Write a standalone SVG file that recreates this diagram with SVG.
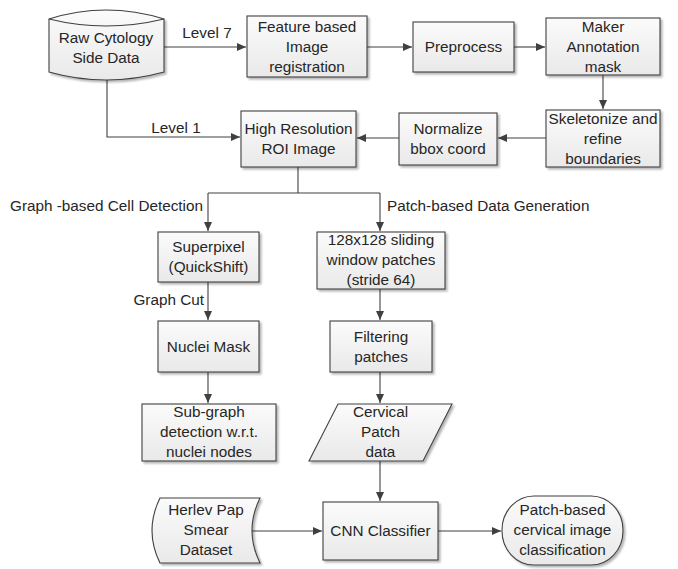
<svg xmlns="http://www.w3.org/2000/svg" width="678" height="569" viewBox="0 0 678 569">
<defs>
<linearGradient id="g" x1="0" y1="0" x2="0" y2="1">
<stop offset="0" stop-color="#fbfbfb"/>
<stop offset="1" stop-color="#e9e9e9"/>
</linearGradient>
<filter id="sh" x="-10%" y="-10%" width="125%" height="130%">
<feGaussianBlur in="SourceAlpha" stdDeviation="1"/>
<feOffset dx="2" dy="2" result="b"/>
<feComponentTransfer><feFuncA type="linear" slope="0.3"/></feComponentTransfer>
<feMerge><feMergeNode/><feMergeNode in="SourceGraphic"/></feMerge>
</filter>
<marker id="ah" markerWidth="10" markerHeight="8" refX="9" refY="4" orient="auto" markerUnits="userSpaceOnUse">
<path d="M0,0 L9,4 L0,8 Z" fill="#404040"/>
</marker>
</defs>
<style>
.s{fill:url(#g);stroke:#404040;stroke-width:1.1;filter:url(#sh)}
.t{font-family:"Liberation Sans",Arial,sans-serif;font-size:15.3px;fill:#262626;text-anchor:middle}
.l{font-family:"Liberation Sans",Arial,sans-serif;font-size:15.3px;fill:#262626}
.c{fill:none;stroke:#404040;stroke-width:1.1}
</style>
<rect width="678" height="569" fill="#ffffff"/>
<g id="connectors">
<path class="c" d="M164,47 H246" marker-end="url(#ah)"/>
<path class="c" d="M367,47 H412" marker-end="url(#ah)"/>
<path class="c" d="M514,47 H545" marker-end="url(#ah)"/>
<path class="c" d="M603,75 V109" marker-end="url(#ah)"/>
<path class="c" d="M546,138 H498" marker-end="url(#ah)"/>
<path class="c" d="M399,138 H357" marker-end="url(#ah)"/>
<path class="c" d="M107,80 V137 H240" marker-end="url(#ah)"/>
<path class="c" d="M298,167 V193"/>
<path class="c" d="M208,193 H380"/>
<path class="c" d="M208,193 V231" marker-end="url(#ah)"/>
<path class="c" d="M380,193 V231" marker-end="url(#ah)"/>
<path class="c" d="M208,282 V320" marker-end="url(#ah)"/>
<path class="c" d="M208,372 V403" marker-end="url(#ah)"/>
<path class="c" d="M380,289 V320" marker-end="url(#ah)"/>
<path class="c" d="M380,372 V403" marker-end="url(#ah)"/>
<path class="c" d="M380,461 V501" marker-end="url(#ah)"/>
<path class="c" d="M252,531 H322" marker-end="url(#ah)"/>
<path class="c" d="M438,531 H501" marker-end="url(#ah)"/>
<text class="t" x="207" y="38">Level 7</text>
<text class="t" x="176" y="133">Level 1</text>
<text class="l" x="10" y="211">Graph -based Cell Detection</text>
<text class="l" x="387" y="211">Patch-based Data Generation</text>
<text class="l" x="204" y="305" text-anchor="end">Graph Cut</text>
</g>
<g id="raw">
<path class="s" d="M49,19 Q106,1 164,19 V72 Q106,88 49,72 Z"/>
<path class="c" d="M49,19 Q106,33 164,19"/>
<text class="t" x="106" y="43">Raw Cytology</text>
<text class="t" x="106" y="63">Side Data</text>
</g>
<g id="feature">
<rect class="s" x="247" y="16" width="120" height="61"/>
<text class="t" x="307" y="32">Feature based</text>
<text class="t" x="307" y="52">Image</text>
<text class="t" x="307" y="72">registration</text>
</g>
<g id="preprocess">
<rect class="s" x="413" y="22" width="101" height="50"/>
<text class="t" x="463.5" y="52">Preprocess</text>
</g>
<g id="maker">
<rect class="s" x="546" y="18" width="114" height="57"/>
<text class="t" x="603" y="32">Maker</text>
<text class="t" x="603" y="52">Annotation</text>
<text class="t" x="603" y="72">mask</text>
</g>
<g id="skeletonize">
<rect class="s" x="546" y="110" width="114" height="57"/>
<text class="t" x="603" y="124">Skeletonize and</text>
<text class="t" x="603" y="144">refine</text>
<text class="t" x="603" y="164">boundaries</text>
</g>
<g id="normalize">
<rect class="s" x="399" y="113" width="98" height="52"/>
<text class="t" x="448" y="134">Normalize</text>
<text class="t" x="448" y="154">bbox coord</text>
</g>
<g id="highres">
<rect class="s" x="241" y="111" width="115" height="56"/>
<text class="t" x="298.5" y="134">High Resolution</text>
<text class="t" x="298.5" y="154">ROI Image</text>
</g>
<g id="superpixel">
<rect class="s" x="158" y="232" width="101" height="50"/>
<text class="t" x="208.5" y="252">Superpixel</text>
<text class="t" x="208.5" y="272">(QuickShift)</text>
</g>
<g id="nuclei">
<rect class="s" x="158" y="321" width="101" height="51"/>
<text class="t" x="208.5" y="352">Nuclei Mask</text>
</g>
<g id="subgraph">
<rect class="s" x="142" y="404" width="134" height="57"/>
<text class="t" x="209" y="417">Sub-graph</text>
<text class="t" x="209" y="437">detection w.r.t.</text>
<text class="t" x="209" y="457">nuclei nodes</text>
</g>
<g id="sliding">
<rect class="s" x="317" y="232" width="128" height="57"/>
<text class="t" x="381" y="245">128x128 sliding</text>
<text class="t" x="381" y="265">window patches</text>
<text class="t" x="381" y="285">(stride 64)</text>
</g>
<g id="filtering">
<rect class="s" x="330" y="321" width="102" height="51"/>
<text class="t" x="381" y="342">Filtering</text>
<text class="t" x="381" y="362">patches</text>
</g>
<g id="cervical">
<path class="s" d="M338,404 H452 L423,461 H309 Z"/>
<text class="t" x="380.5" y="417">Cervical</text>
<text class="t" x="380.5" y="437">Patch</text>
<text class="t" x="380.5" y="457">data</text>
</g>
<g id="herlev">
<path class="s" d="M160,498 H260 Q244,530.5 260,563 H160 Q144,530.5 160,498 Z"/>
<text class="t" x="206" y="515">Herlev Pap</text>
<text class="t" x="206" y="535">Smear</text>
<text class="t" x="206" y="555">Dataset</text>
</g>
<g id="cnn">
<rect class="s" x="323" y="502" width="115" height="58"/>
<text class="t" x="380.5" y="536">CNN Classifier</text>
</g>
<g id="result">
<rect class="s" x="502" y="496" width="121" height="69" rx="32" ry="34"/>
<text class="t" x="562.5" y="515">Patch-based</text>
<text class="t" x="562.5" y="535">cervical image</text>
<text class="t" x="562.5" y="555">classification</text>
</g>
</svg>
